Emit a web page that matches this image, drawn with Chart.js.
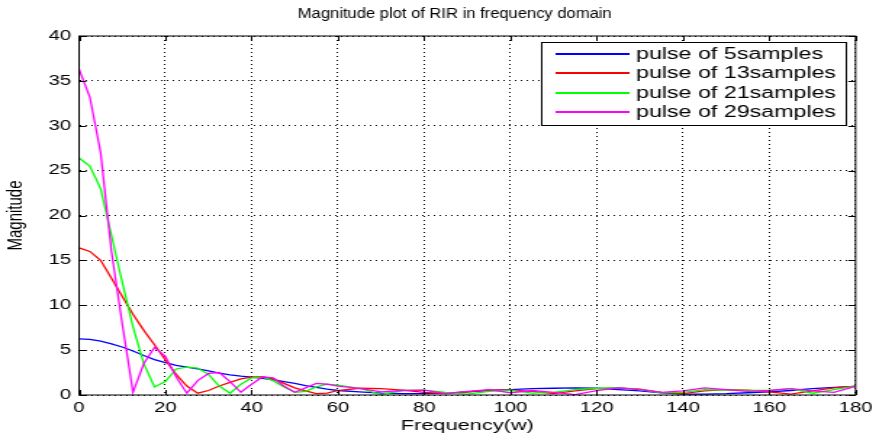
<!DOCTYPE html>
<html>
<head>
<meta charset="utf-8">
<script src="https://cdn.jsdelivr.net/npm/chart.js@4"></script>
<style>
  html, body { margin: 0; padding: 0; background: #fff; }
  #plot { display: block; width: 879px !important; height: 436px !important; }
</style>
</head>
<body>
<!-- the reference figure is stretched sideways, so the canvas is drawn narrow and widened by css -->
<canvas id="plot" width="606" height="436" style="width:879px;height:436px"></canvas>
<script>
// frequency points (w)
var freq = [0, 2.5, 5, 7.5, 10, 12.5, 15, 17.5, 20, 22.5, 25, 27.5, 30, 32.5, 35, 37.5, 40, 42.5, 45, 47.5, 50, 52.5, 55, 57.5, 60,
            65, 70, 75, 80, 85, 90, 95, 100, 105, 110, 115, 120, 125, 130, 135, 140, 145, 150, 155, 160, 165, 170, 175, 180];

// magnitude of each pulse
var pulse5 = [6.25, 6.2, 6.0, 5.7, 5.35, 4.9, 4.4, 3.95, 3.6, 3.3, 3.1, 2.9, 2.7, 2.45, 2.25, 2.1, 2.0, 1.85, 1.7, 1.5, 1.3, 1.05, 0.85, 0.65, 0.5,
              0.35, 0.2, 0.15, 0.15, 0.2, 0.35, 0.5, 0.6, 0.7, 0.75, 0.8, 0.75, 0.6, 0.45, 0.25, 0.1, 0.1, 0.15, 0.25, 0.35, 0.5, 0.7, 0.85, 0.95];
var pulse13 = [16.4, 16.0, 15.0, 13.0, 11.0, 9.0, 7.2, 5.6, 3.9, 2.3, 1.0, 0.2, 0.5, 1.0, 1.4, 1.8, 2.0, 2.05, 1.8, 1.3, 0.8, 0.45, 0.15, 0.2, 0.5,
               0.75, 0.7, 0.55, 0.3, 0.15, 0.35, 0.55, 0.55, 0.4, 0.15, 0.45, 0.7, 0.8, 0.65, 0.3, 0.15, 0.45, 0.6, 0.55, 0.35, 0.1, 0.45, 0.8, 1.0];
var pulse21 = [26.4, 25.5, 23.0, 17.8, 12.6, 7.6, 3.5, 0.9, 1.5, 2.9, 3.1, 3.0, 2.3, 1.0, 0.2, 1.2, 1.9, 2.0, 1.6, 0.9, 0.3, 0.4, 0.9, 1.2, 1.1,
               0.75, 0.05, 0.5, 0.55, 0.3, 0.1, 0.4, 0.55, 0.2, 0.3, 0.6, 0.75, 0.8, 0.6, 0.25, 0.3, 0.6, 0.55, 0.5, 0.5, 0.7, 0.2, 0.6, 1.0];
var pulse29 = [36.3, 33.2, 27.0, 16.0, 8.0, 0.3, 3.5, 5.3, 4.3, 2.0, 0.2, 1.6, 2.4, 2.5, 1.5, 0.3, 1.2, 2.0, 1.9, 1.0, 0.3, 0.8, 1.3, 1.2, 1.0,
               0.75, 0.35, 0.5, 0.55, 0.15, 0.4, 0.6, 0.25, 0.5, 0.3, 0.05, 0.5, 0.8, 0.6, 0.3, 0.45, 0.8, 0.6, 0.4, 0.5, 0.7, 0.45, 0.3, 0.95];

var seriesNames = ['pulse of 5samples', 'pulse of 13samples', 'pulse of 21samples', 'pulse of 29samples'];
var seriesColors = ['#0000ff', '#ff0000', '#00ff00', '#ff00ff'];
var seriesValues = [pulse5, pulse13, pulse21, pulse29];
var chartTitle = 'Magnitude plot of RIR in frequency domain';

var FONT = 'Liberation Sans, Arial, sans-serif';

function toPoints(values) {
    return freq.map(function (f, i) { return { x: f, y: values[i] }; });
}

var datasets = seriesValues.map(function (vals, i) {
    return {
        label: seriesNames[i],
        data: toPoints(vals),
        borderColor: seriesColors[i],
        borderWidth: 1.3,
        pointRadius: 0,
        tension: 0,
        fill: false,
        order: seriesValues.length - i   // last series ends up on top, like matlab
    };
});

// title, box around the axes, inner tick marks and the legend box
var matlabFrame = {
    id: 'matlabFrame',
    afterDraw: function (chart) {
        var ctx = chart.ctx;
        var a = chart.chartArea;
        var sx = chart.scales.x, sy = chart.scales.y;
        ctx.save();

        // title is narrower than the rest of the text in the reference
        ctx.save();
        ctx.fillStyle = '#000';
        ctx.font = '14px ' + FONT;
        ctx.textAlign = 'center';
        ctx.textBaseline = 'middle';
        ctx.translate(313.5, 14.5);
        ctx.scale(0.815, 1);
        ctx.fillText(chartTitle, 0, 0);
        ctx.restore();

        ctx.strokeStyle = '#000';
        ctx.lineWidth = 1;
        ctx.setLineDash([]);
        ctx.strokeRect(a.left, a.top, a.right - a.left, a.bottom - a.top);
        ctx.beginPath();
        sx.ticks.forEach(function (t) {
            var px = Math.round(sx.getPixelForValue(t.value)) + 0.5;
            ctx.moveTo(px, a.bottom); ctx.lineTo(px, a.bottom - 5);
            ctx.moveTo(px, a.top); ctx.lineTo(px, a.top + 5);
        });
        sy.ticks.forEach(function (t) {
            var py = Math.round(sy.getPixelForValue(t.value)) + 0.5;
            ctx.moveTo(a.left, py); ctx.lineTo(a.left + 5, py);
            ctx.moveTo(a.right, py); ctx.lineTo(a.right - 5, py);
        });
        ctx.stroke();

        // legend
        var lx = 373.5, ly = 42.5, lw = 210, lh = 83;
        ctx.fillStyle = '#fff';
        ctx.fillRect(lx, ly, lw, lh);
        ctx.strokeRect(lx, ly, lw, lh);
        ctx.font = '16px ' + FONT;
        ctx.textBaseline = 'middle';
        ctx.textAlign = 'left';
        chart.data.datasets.forEach(function (ds, i) {
            var y = Math.round(54 + i * 19.4);
            ctx.strokeStyle = ds.borderColor;
            ctx.lineWidth = 2;
            ctx.beginPath();
            ctx.moveTo(383, y);
            ctx.lineTo(434, y);
            ctx.stroke();
            ctx.fillStyle = '#000';
            ctx.fillText(ds.label, 438.5, y + 0.5);
        });
        ctx.restore();
    }
};

var chart = new Chart(document.getElementById('plot'), {
    type: 'line',
    data: { datasets: datasets },
    options: {
        responsive: false,
        animation: false,
        devicePixelRatio: 1,
        layout: { padding: { top: 36, right: 16, bottom: 0, left: 0 } },
        plugins: {
            legend: { display: false },
            tooltip: { enabled: false },
            title: { display: false }
        },
        scales: {
            x: {
                type: 'linear',
                min: 0,
                max: 180,
                afterFit: function (scale) { scale.height = 41; },
                ticks: { stepSize: 20, color: '#000', padding: 4.5, maxRotation: 0,
                         font: { family: FONT, size: 14 } },
                grid: { color: '#000', lineWidth: 1, drawTicks: false },
                border: { display: false, dash: [1, 3] },
                title: { display: true, text: 'Frequency(w)', color: '#000',
                         font: { family: FONT, size: 15 }, padding: { top: 0, bottom: 1 } }
            },
            y: {
                min: 0,
                max: 40,
                afterFit: function (scale) { scale.width = 54.5; },
                ticks: { stepSize: 5, color: '#000', padding: 5.5,
                         font: { family: FONT, size: 14 } },
                grid: { color: '#000', lineWidth: 1, drawTicks: false },
                border: { display: false, dash: [1, 3] },
                title: { display: true, text: 'Magnitude', color: '#000',
                         font: { family: FONT, size: 15 }, padding: { top: 2, bottom: 0 } }
            }
        }
    },
    plugins: [matlabFrame]
});
</script>
</body>
</html>
